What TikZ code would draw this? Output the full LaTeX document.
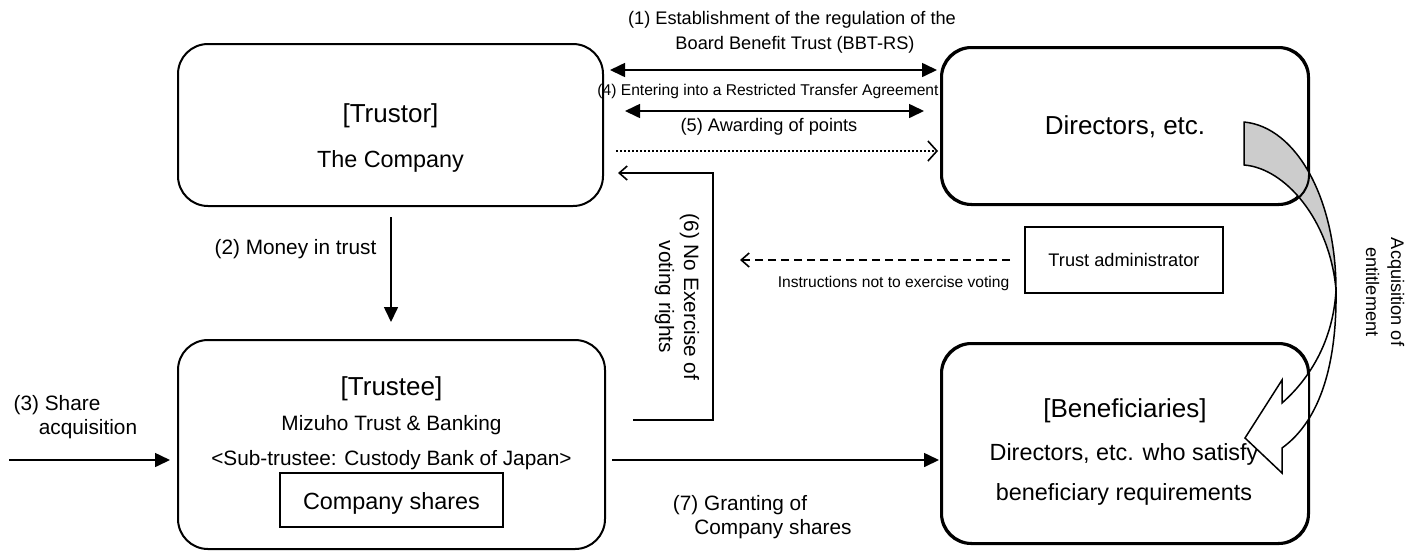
\documentclass[tikz,border=0pt]{standalone}
\usepackage{fontspec}
\setmainfont{Liberation Sans}
\usetikzlibrary{arrows.meta}
\definecolor{arrowgray}{gray}{0.8}
\begin{document}
\begin{tikzpicture}[x=1pt,y=-1pt,
  box/.style={draw, line width=2pt, rounded corners=30pt, fill=white, inner sep=0pt},
  sqbox/.style={draw, line width=2pt, fill=white, inner sep=0pt},
  lbl/.style={anchor=base, inner sep=0pt},
  tA/.style={font=\fontsize{26}{30}\selectfont},
  tB/.style={font=\fontsize{23.4}{27}\selectfont},
  tC/.style={font=\fontsize{20.8}{25}\selectfont},
  tD/.style={font=\fontsize{18.2}{25}\selectfont},
  tE/.style={font=\fontsize{15.6}{19}\selectfont},
  conn/.style={line width=1.6pt},
  filltip/.style={-{Triangle[length=15pt,width=14pt]}},
  dbltip/.style={{Triangle[length=15pt,width=14pt]}-{Triangle[length=15pt,width=14pt]}},
  barbtip/.style={-{Straight Barb[length=9pt,width=20pt,line width=1.6pt]}},
  smallbarb/.style={-{Straight Barb[length=8pt,width=14pt,line width=1.6pt]}},
]
\useasboundingbox (0,0) rectangle (1418,550);

% boxes
\node[box, minimum width=425, minimum height=162] (trustor) at (390.5,125) {};
\node[box, minimum width=366, minimum height=156] (directors) at (1125,126) {};
\node[box, minimum width=427, minimum height=209] (trustee) at (391.5,444.5) {};
\node[box, minimum width=366, minimum height=199] (benef) at (1125,443.5) {};
\node[sqbox, minimum width=223, minimum height=54] (shares) at (391.5,500) {};
\node[sqbox, minimum width=198, minimum height=66] (admin) at (1124,260) {};

% box texts
\node[lbl,tA] (trustorT) at (390.5,122) {[Trustor]};
\node[lbl,tB] (trustorC) at (390.5,167) {The Company};
\node[lbl,tA] (dirT) at (1125,134) {Directors, etc.};
\node[lbl,tA] (trusteeT) at (391.5,395) {[Trustee]};
\node[lbl,tC] (mizuho) at (391.5,430) {Mizuho Trust \& Banking};
\node[lbl,tC] (sub) at (391.5,465) {<Sub-trustee: Custody Bank of Japan>};
\node[lbl,tB] (sharesT) at (391.5,509) {Company shares};
\node[lbl,tA] (benT) at (1125,417) {[Beneficiaries]};
\node[lbl,tB] (benL1) at (1124,460) {Directors, etc. who satisfy};
\node[lbl,tB] (benL2) at (1124,500) {beneficiary requirements};
\node[lbl,tD] (adminT) at (1124,266.5) {Trust administrator};

% connector labels
\node[lbl,tD] (l1a) at (792,24) {(1) Establishment of the regulation of the};
\node[lbl,tD] (l1b) at (795,49) {Board Benefit Trust (BBT-RS)};
\node[lbl,tE] (l4) at (768,95) {(4) Entering into a Restricted Transfer Agreement};
\node[lbl,tD] (l5) at (769,131) {(5) Awarding of points};
\node[lbl,tC] (l2) at (295.5,254) {(2) Money in trust};
\node[lbl,tC] (l3a) at (57,410) {(3) Share};
\node[lbl,tC] (l3b) at (88,434) {acquisition};
\node[lbl,tC] (l7a) at (740,510) {(7) Granting of};
\node[lbl,tC] (l7b) at (773,534) {Company shares};
\node[lbl,tE] (linstr) at (893.5,287) {Instructions not to exercise voting};
\node[tC, rotate=-90, align=center, inner sep=0pt] (l6) at (677,297) {(6) No Exercise of\\voting rights};
\node[tD, rotate=-90, align=center, inner sep=0pt] (acq) at (1385,292) {Acquisition of\\entitlement};

% connector end points
\coordinate (a1l) at (610,70);  \coordinate (a1r) at (937,70);
\coordinate (a4l) at (625,111); \coordinate (a4r) at (924,111);
\coordinate (a5l) at (616,151); \coordinate (a5r) at (938,151);
\coordinate (a6s) at (633,420); \coordinate (a6c1) at (713,420);
\coordinate (a6c2) at (713,173); \coordinate (a6e) at (618,173);
\coordinate (a2s) at (391,217); \coordinate (a2e) at (391,322);
\coordinate (a3s) at (9,460);   \coordinate (a3e) at (170,460);
\coordinate (a7s) at (612,460); \coordinate (a7e) at (939,460);
\coordinate (ais) at (1010,260); \coordinate (aie) at (740,260);

% connectors
\draw[conn,dbltip] (a1l) -- (a1r);
\draw[conn,dbltip] (a4l) -- (a4r);
\draw[line width=2pt,barbtip,dash pattern=on 2pt off 2pt] (a5l) -- (a5r);
\draw[conn,smallbarb] (a6s) -- (a6c1) -- (a6c2) -- (a6e);
\draw[conn,filltip] (a2s) -- (a2e);
\draw[conn,filltip] (a3s) -- (a3e);
\draw[conn,filltip] (a7s) -- (a7e);
\draw[conn,smallbarb,dash pattern=on 8pt off 5pt] (ais) -- (aie);

% curved block arrow (acquisition of entitlement)
\draw[line width=1.5pt, fill=arrowgray, line join=round]
  (1244,122) .. controls (1297,127) and (1336,200) .. (1336,290)
  .. controls (1330,220) and (1285,168) .. (1244,165) -- cycle;
\draw[line width=1.5pt, fill=white, line join=miter]
  (1336,290) .. controls (1337,362) and (1321,420) .. (1282,448)
  -- (1282,473) -- (1245,438) -- (1282,380) -- (1282,403)
  .. controls (1306,382) and (1333,345) .. (1336,290) -- cycle;

% box borders over the curved arrow
\draw[line width=2pt, rounded corners=30pt] (directors.south west) rectangle (directors.north east);
\draw[line width=2pt, rounded corners=30pt] (benef.south west) rectangle (benef.north east);
\end{tikzpicture}
\end{document}
